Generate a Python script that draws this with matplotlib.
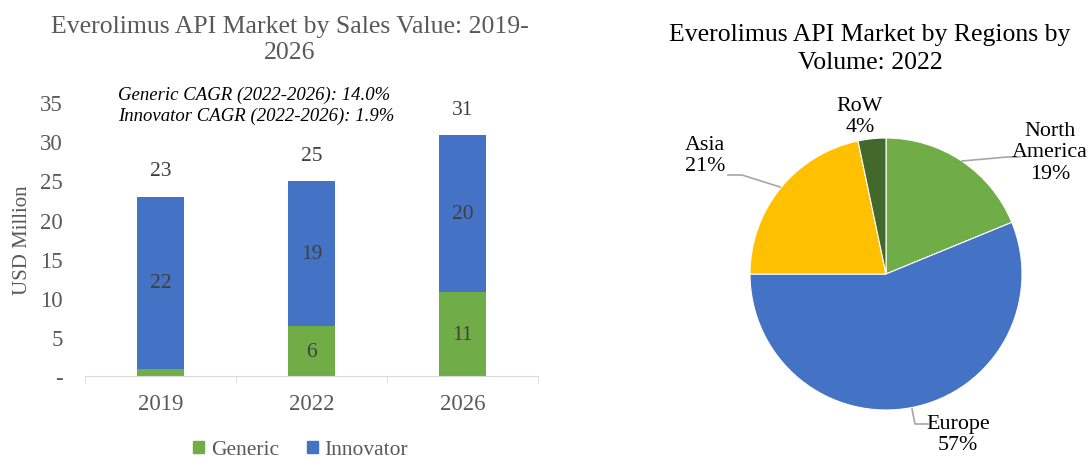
import numpy as np
import matplotlib
matplotlib.use("Agg")
import matplotlib.pyplot as plt
from matplotlib.patches import Patch

plt.rcParams['font.family'] = ['Liberation Serif', 'DejaVu Serif']

# bar chart data (USD Million)
years = ['2019', '2022', '2026']
generic = [0.9, 6.4, 10.7]
innovator = [22.0, 18.5, 20.1]
generic_labels = ['', '6', '11']
innovator_labels = ['22', '19', '20']
total_labels = ['23', '25', '31']
cagr_lines = ['Generic CAGR (2022-2026): 14.0%', 'Innovator CAGR (2022-2026): 1.9%']

# pie chart data (share of volume, 2022)
regions = ['North\nAmerica', 'Europe', 'Asia', 'RoW']
shares = [18.8, 56.2, 21.7, 3.3]
share_labels = ['19%', '57%', '21%', '4%']

green = '#70AD47'
blue = '#4472C4'
yellow = '#FFC000'
darkgreen = '#43682B'
grey = '#595959'

fig = plt.figure(figsize=(10.89, 4.6), dpi=100)

# ---- left: stacked bars
ax = fig.add_axes([0.078, 0.180, 0.416, 0.596])
x = np.arange(len(years))
w = 0.31
ax.bar(x, generic, w, color=green, label='Generic')
ax.bar(x, innovator, w, bottom=generic, color=blue, label='Innovator')
tot = np.array(generic) + np.array(innovator)
for i in range(len(years)):
    if generic_labels[i]:
        ax.text(x[i], generic[i] / 2, generic_labels[i], ha='center', va='center',
                fontsize=15.5, color='#404040')
    ax.text(x[i], generic[i] + innovator[i] / 2, innovator_labels[i], ha='center',
            va='center', fontsize=15.5, color='#404040')
    ax.text(x[i], tot[i] + 3.3, total_labels[i], ha='center', va='center',
            fontsize=15.5, color='#404040')

ax.set_xlim(-0.5, 2.5)
ax.set_ylim(0, 35)
ax.set_yticks(range(0, 36, 5))
ax.set_yticklabels(['-'] + [str(v) for v in range(5, 36, 5)])
ax.set_xticks(x)
ax.set_xticklabels(years)
ax.set_xticks([-0.5, 0.5, 1.5, 2.5], minor=True)
ax.tick_params(axis='x', which='major', length=0, pad=12, labelsize=16.5, labelcolor=grey)
ax.tick_params(axis='x', which='minor', length=5, color='#D9D9D9', direction='out')
ax.tick_params(axis='y', length=0, pad=16, labelsize=16.5, labelcolor=grey)
for s in ['top', 'right', 'left']:
    ax.spines[s].set_visible(False)
ax.spines['bottom'].set_color('#D9D9D9')
ax.set_ylabel('USD Million', fontsize=15, color=grey, labelpad=6)

ax.text(0.073, 1.029, cagr_lines[0], transform=ax.transAxes, fontsize=13.5,
        style='italic', color='black', va='center')
ax.text(0.073, 0.953, cagr_lines[1], transform=ax.transAxes, fontsize=13.5,
        style='italic', color='black', va='center')

fig.text(0.266, 1 - 40 / 460, 'Everolimus API Market by Sales Value: 2019-\n2026',
         ha='center', va='center', fontsize=18.5, color=grey, linespacing=1.2)

handles = [Patch(color=green), Patch(color=blue)]
fig.legend(handles, ['Generic', 'Innovator'], loc='center', bbox_to_anchor=(0.276, 0.02),
           ncol=2, frameon=False, fontsize=15.5, handlelength=0.5, handleheight=0.5,
           columnspacing=1.3, handletextpad=0.3, labelcolor=grey)

# ---- right: pie
r_px = 136.0
cx, cy = 886.0, 275.0
left_px, right_px = 660.0, 1089.0
pax = fig.add_axes([left_px / 1089, 0.0, (right_px - left_px) / 1089, 1.0])
pax.pie(shares, colors=[green, blue, yellow, darkgreen], startangle=90, counterclock=False,
        radius=1.0, wedgeprops=dict(linewidth=0.8, edgecolor='white'))
pax.set_xlim((left_px - cx) / r_px, (right_px - cx) / r_px)
pax.set_ylim((cy - 460) / r_px, cy / r_px)
pax.set_aspect('auto')
pax.axis('off')


def px(xp, yp):
    return ((xp - cx) / r_px, (cy - yp) / r_px)


label_pos = [(1050, 153), (958, 435), (705, 156), (860, 117)]
leaders = [[(962, 162), (1007, 158), (1020, 158)],
           [(912, 410), (915, 425), (928, 425)],
           [(780, 188), (742, 176), (728, 176)],
           None]
for name, lab, pos, ld in zip(regions, share_labels, label_pos, leaders):
    tx, ty = px(*pos)
    pax.text(tx, ty, name + '\n' + lab, ha='center', va='center', fontsize=15.8,
             color='black', linespacing=1.15)
    if ld:
        pts = np.array([px(*p) for p in ld])
        pax.plot(pts[:, 0], pts[:, 1], color='#A6A6A6', lw=1.2)

fig.text(870 / 1089, 1 - 49 / 460, 'Everolimus API Market by Regions by\nVolume: 2022',
         ha='center', va='center', fontsize=18.5, color='black', linespacing=1.3)

fig.savefig('out.png', dpi=100)
